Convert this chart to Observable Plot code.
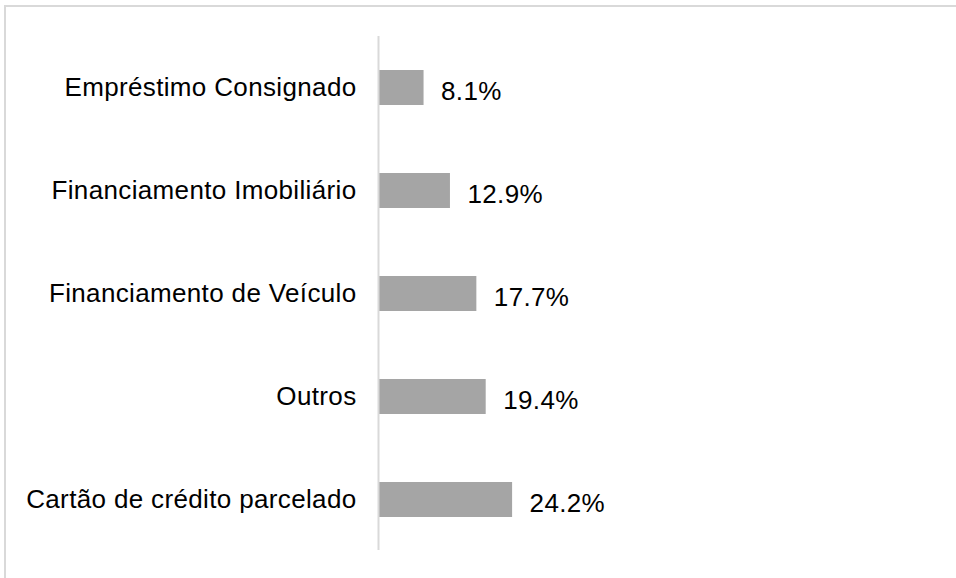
<!DOCTYPE html>
<html>
<head>
<meta charset="utf-8">
<script src="https://cdn.jsdelivr.net/npm/d3@7"></script>
<script src="https://cdn.jsdelivr.net/npm/@observablehq/plot@0.6"></script>
<style>
  html, body { margin: 0; padding: 0; background: #fff; }
  #wrap { position: relative; width: 956px; height: 578px; overflow: hidden; }
  #frame { position: absolute; left: 4px; top: 5px; width: 960px; height: 580px;
           border-top: 2px solid #d9d9d9; border-left: 2px solid #d9d9d9; pointer-events: none; }
</style>
</head>
<body>
<div id="wrap"><div id="frame"></div></div>
<script>
const categories = ["Empréstimo Consignado", "Financiamento Imobiliário", "Financiamento de Veículo", "Outros", "Cartão de crédito parcelado"];
const values = [8.1, 12.9, 17.7, 19.4, 24.2];
const labels = ["8.1%", "12.9%", "17.7%", "19.4%", "24.2%"];

const data = categories.map((c, i) => ({category: c, value: values[i], label: labels[i]}));

const chart = Plot.plot({
  width: 956,
  height: 578,
  marginLeft: 379,
  marginRight: 27,
  marginTop: 36,
  marginBottom: 28,
  style: {fontFamily: "Liberation Sans, Arial, sans-serif", fontSize: "26px", color: "#000", background: "transparent", letterSpacing: "0.35px"},
  x: {domain: [0, 100], axis: null},
  y: {domain: categories, paddingInner: 0.661, paddingOuter: 0.32, label: null, axis: null},
  marks: [
    Plot.barX(data, {x: "value", y: "category", fill: "#a5a5a5"}),
    Plot.ruleX([0], {stroke: "#d9d9d9", strokeWidth: 2, dx: -1}),
    Plot.text(data, {x: "value", y: "category", text: "label", textAnchor: "start", dx: 17, dy: 4, fontSize: 26, fill: "#000"}),
    Plot.axisY({tickSize: 0, tickPadding: 23, fontSize: 26, label: null, fill: "#000"})
  ]
});
document.getElementById("wrap").prepend(chart);
</script>
</body>
</html>
